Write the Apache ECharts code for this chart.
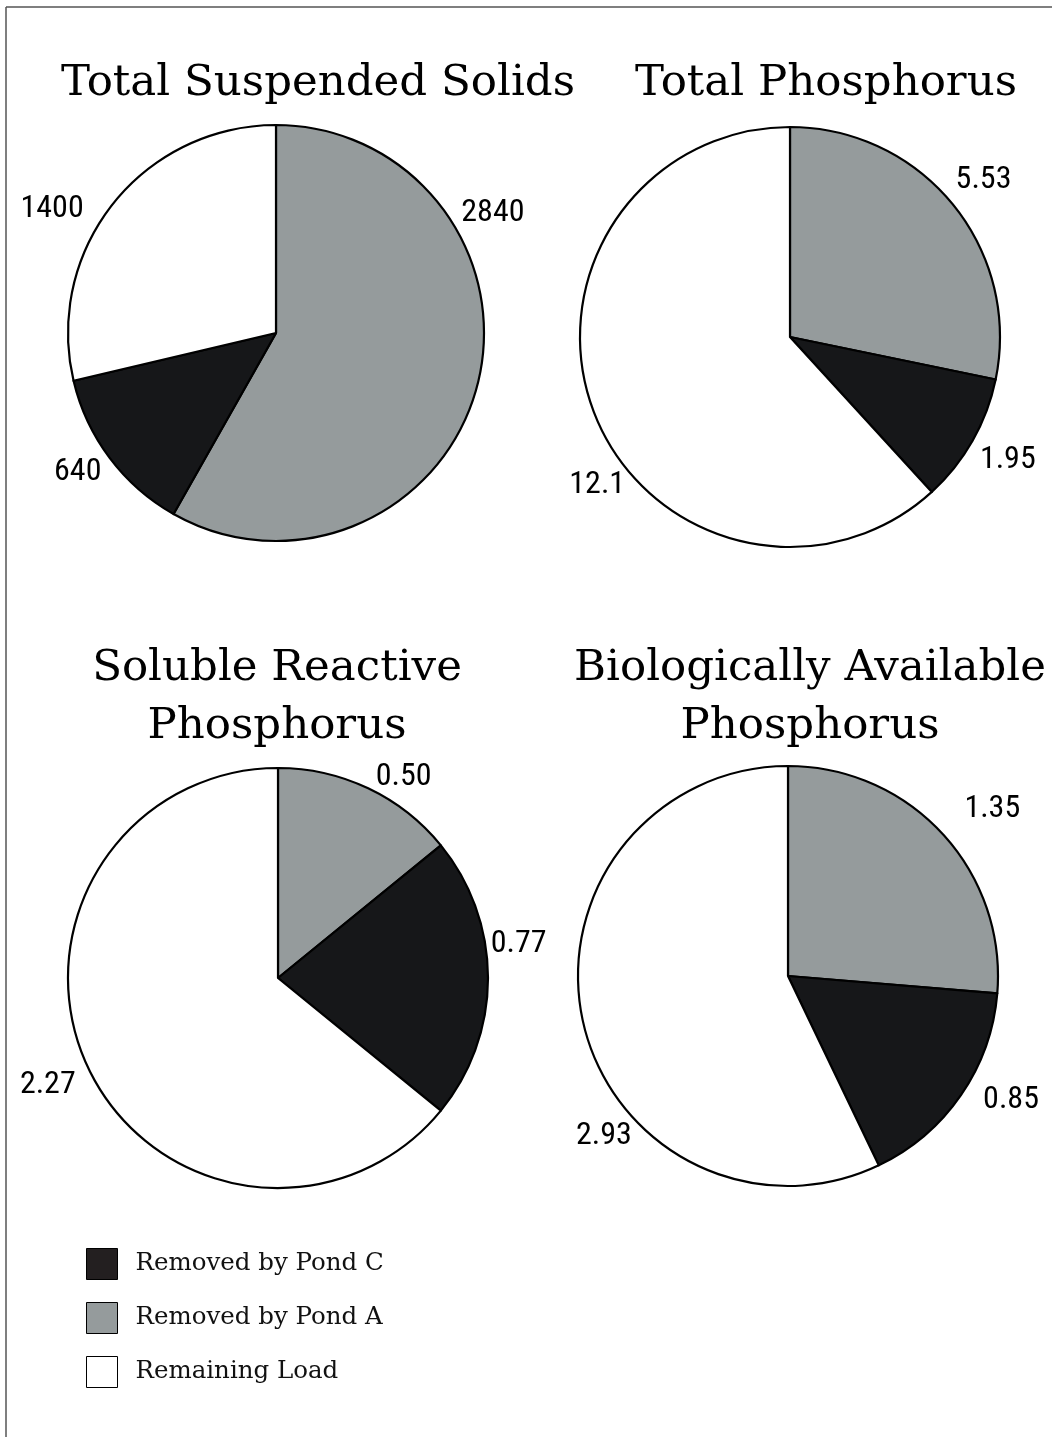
<!DOCTYPE html>
<html>
<head>
<meta charset="utf-8">
<script src="https://cdn.jsdelivr.net/npm/echarts@6/dist/echarts.min.js"></script>
<style>
html,body{margin:0;padding:0;background:#fff;}
#c{width:1052px;height:1437px;}
</style>
</head>
<body>
<div id="c"></div>
<script>
// ---- data ----
const categories = ['Removed by Pond A', 'Removed by Pond C', 'Remaining Load'];
const legendOrder = ['Removed by Pond C', 'Removed by Pond A', 'Remaining Load'];
const titles = ['Total Suspended Solids', 'Total Phosphorus', 'Soluble Reactive\nPhosphorus', 'Biologically Available\nPhosphorus'];
const tssValues = [2840, 640, 1400];
const tpValues = [5.53, 1.95, 12.1];
const srpValues = [0.50, 0.77, 2.27];
const bapValues = [1.35, 0.85, 2.93];
const labelTexts = [
  ['2840', '640', '1400'],
  ['5.53', '1.95', '12.1'],
  ['0.50', '0.77', '2.27'],
  ['1.35', '0.85', '2.93']
];

// ---- styles / layout ----
const sliceColors = ['#959b9c', '#161719', '#ffffff'];
const serif = "'DejaVu Serif', 'Liberation Serif', serif";
const narrow = "'Roboto Condensed', 'DejaVu Sans Condensed', sans-serif";

const pieLayout = [
  { center: [276, 333], radius: 208 },
  { center: [790, 337], radius: 210 },
  { center: [278, 978], radius: 210 },
  { center: [788, 976], radius: 210 }
];
// label placement: [angle clockwise from top (deg), distance from centre (px)]
const labelPlacement = [
  [[61, 248], [235, 242], [299, 256]],
  [[51, 249], [119.4, 250], [232.5, 243]],
  [[32, 237], [82, 243], [245, 254]],
  [[50.7, 264], [119, 255], [229, 244]]
];
const titleLayout = [
  { left: 313, top: 50 },
  { left: 821, top: 50 },
  { left: 272, top: 635 },
  { left: 805, top: 635 }
];

const allValues = [tssValues, tpValues, srpValues, bapValues];

const series = allValues.map((vals, i) => ({
  type: 'pie',
  center: pieLayout[i].center,
  radius: pieLayout[i].radius,
  startAngle: 90,
  clockwise: true,
  avoidLabelOverlap: false,
  silent: true,
  itemStyle: { borderColor: '#000', borderWidth: 2.2 },
  label: {
    show: true,
    position: 'outside',
    fontFamily: narrow,
    fontSize: 32,
    color: '#000',
    formatter: p => labelTexts[i][p.dataIndex]
  },
  labelLine: { show: false, length: 40, length2: 0 },
  labelLayout: p => {
    const [a, d] = labelPlacement[i][p.dataIndex];
    const rad = a * Math.PI / 180;
    return {
      x: pieLayout[i].center[0] + d * Math.sin(rad),
      y: pieLayout[i].center[1] - d * Math.cos(rad),
      align: 'center',
      verticalAlign: 'middle'
    };
  },
  emphasis: { disabled: true },
  data: vals.map((v, k) => ({
    name: categories[k],
    value: v,
    itemStyle: { color: sliceColors[k] }
  }))
}));

const chart = echarts.init(document.getElementById('c'), null, { renderer: 'canvas' });
chart.setOption({
  backgroundColor: '#fff',
  animation: false,
  title: titles.map((t, i) => ({
    text: t,
    left: titleLayout[i].left,
    top: titleLayout[i].top,
    textAlign: 'center',
    textStyle: { fontFamily: serif, fontSize: 43.5, fontWeight: 'normal', color: '#000', lineHeight: 58 }
  })),
  legend: {
    orient: 'vertical',
    left: 86,
    top: 1248,
    padding: 0,
    itemWidth: 31,
    itemHeight: 31,
    itemGap: 22,
    icon: 'rect',
    selectedMode: false,
    data: legendOrder.map((n, k) => ({ name: n, itemStyle: k === 0 ? { color: '#231f20' } : {} })),
    itemStyle: { borderColor: '#000', borderWidth: 1 },
    textStyle: { fontFamily: serif, fontSize: 24.5, color: '#111', padding: [0, 0, 0, 13] }
  },
  graphic: [
    { type: 'line', shape: { x1: 6, y1: 7, x2: 1052, y2: 7 }, style: { stroke: '#555', lineWidth: 1.5 } },
    { type: 'line', shape: { x1: 6, y1: 7, x2: 6, y2: 1437 }, style: { stroke: '#555', lineWidth: 1.5 } }
  ],
  series: series
});
</script>
</body>
</html>
